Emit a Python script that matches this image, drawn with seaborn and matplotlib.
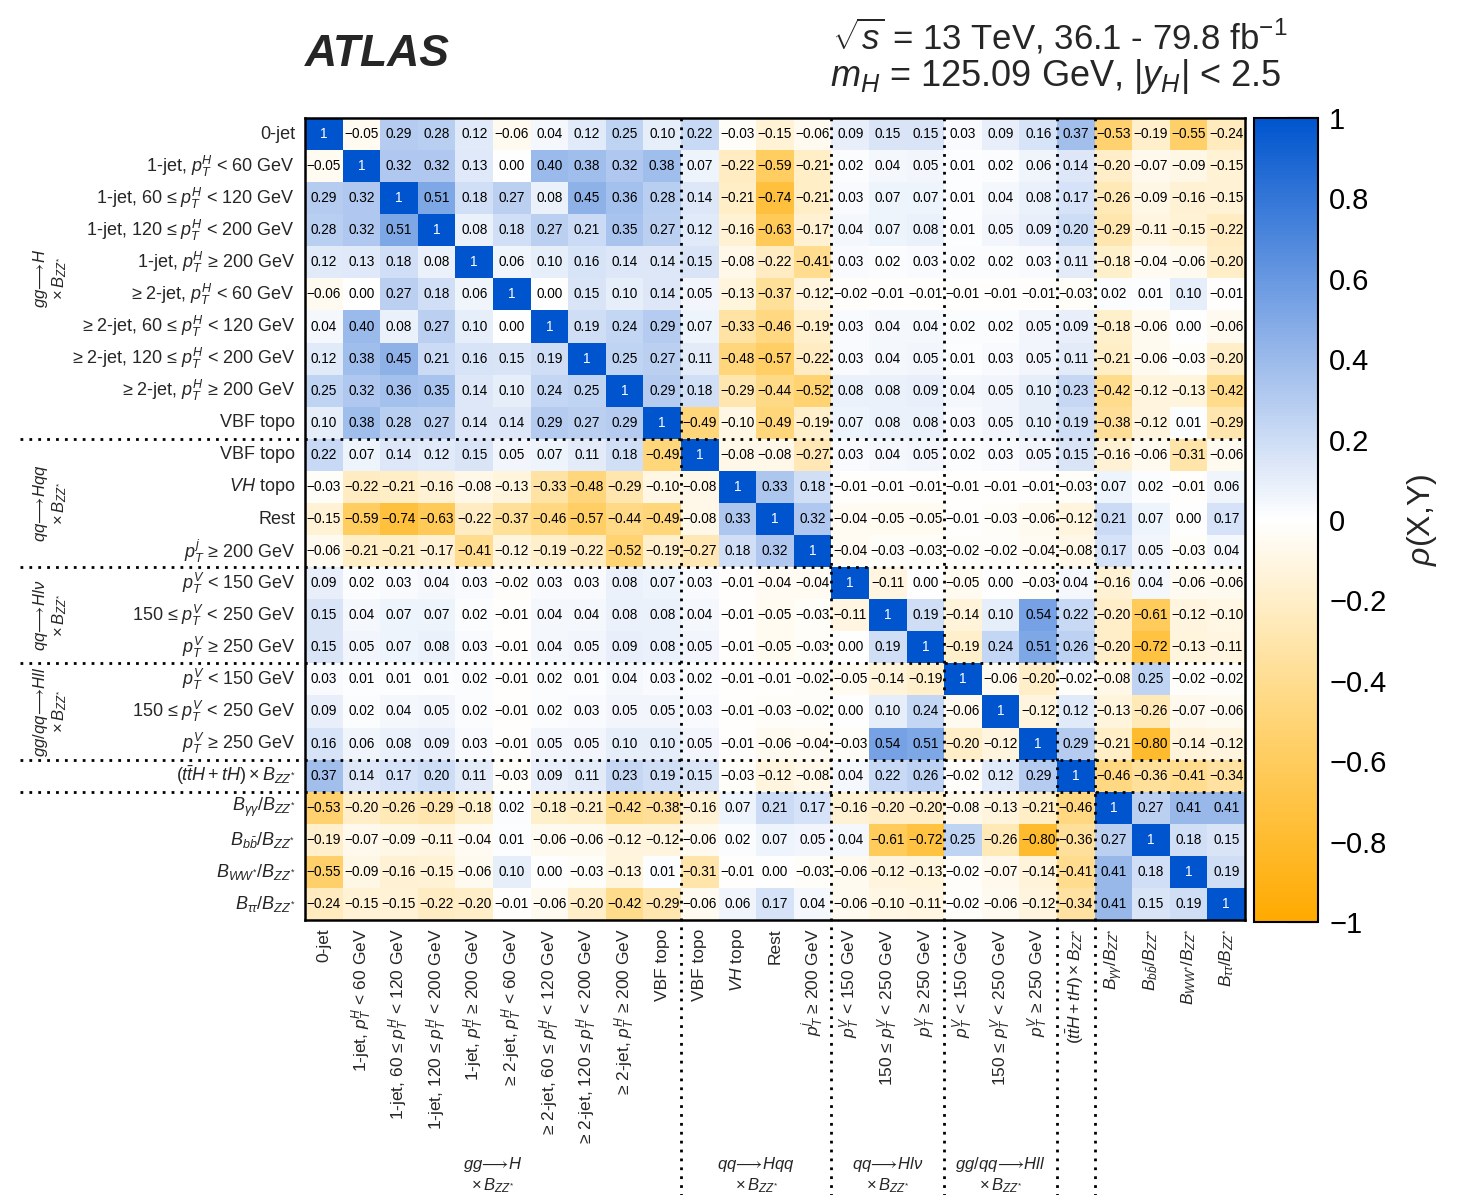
import numpy as np
import pandas as pd
import matplotlib
matplotlib.use("Agg")
import matplotlib.pyplot as plt
import matplotlib.transforms as mtransforms
from matplotlib.colors import LinearSegmentedColormap
import seaborn as sns

# ---- parameter labels -------------------------------------------------------
labels = [
    "0-jet",
    r"1-jet, $p_{T}^{H}$ < 60 GeV",
    r"1-jet, 60 ≤ $p_{T}^{H}$ < 120 GeV",
    r"1-jet, 120 ≤ $p_{T}^{H}$ < 200 GeV",
    r"1-jet, $p_{T}^{H}$ ≥ 200 GeV",
    r"≥ 2-jet, $p_{T}^{H}$ < 60 GeV",
    r"≥ 2-jet, 60 ≤ $p_{T}^{H}$ < 120 GeV",
    r"≥ 2-jet, 120 ≤ $p_{T}^{H}$ < 200 GeV",
    r"≥ 2-jet, $p_{T}^{H}$ ≥ 200 GeV",
    "VBF topo",
    "VBF topo",
    r"$VH$ topo",
    "Rest",
    r"$p_{T}^{j}$ ≥ 200 GeV",
    r"$p_{T}^{V}$ < 150 GeV",
    r"150 ≤ $p_{T}^{V}$ < 250 GeV",
    r"$p_{T}^{V}$ ≥ 250 GeV",
    r"$p_{T}^{V}$ < 150 GeV",
    r"150 ≤ $p_{T}^{V}$ < 250 GeV",
    r"$p_{T}^{V}$ ≥ 250 GeV",
    r"$(t\bar{t}H + tH)\times B_{ZZ^{*}}$",
    r"$B_{\gamma\gamma}/B_{ZZ^{*}}$",
    r"$B_{b\bar{b}}/B_{ZZ^{*}}$",
    r"$B_{WW^{*}}/B_{ZZ^{*}}$",
    r"$B_{\tau\tau}/B_{ZZ^{*}}$",
]

# production-mode groups: (first index, last index + 1, label lines)
groups = [
    (0, 10, r"$gg\!\longrightarrow\! H$", r"$\times\, B_{ZZ^{*}}$"),
    (10, 14, r"$qq\!\longrightarrow\! Hqq$", r"$\times\, B_{ZZ^{*}}$"),
    (14, 17, r"$qq\!\longrightarrow\! Hl\nu$", r"$\times\, B_{ZZ^{*}}$"),
    (17, 20, r"$gg/qq\!\longrightarrow\! Hll$", r"$\times\, B_{ZZ^{*}}$"),
]
separators = [10, 14, 17, 20, 21]

# ---- correlation coefficients, one list per row ------------------------------
r00 = [1, -0.05, 0.29, 0.28, 0.12, -0.06, 0.04, 0.12, 0.25, 0.10, 0.22, -0.03, -0.15, -0.06, 0.09, 0.15, 0.15, 0.03, 0.09, 0.16, 0.37, -0.53, -0.19, -0.55, -0.24]
r01 = [-0.05, 1, 0.32, 0.32, 0.13, 0.00, 0.40, 0.38, 0.32, 0.38, 0.07, -0.22, -0.59, -0.21, 0.02, 0.04, 0.05, 0.01, 0.02, 0.06, 0.14, -0.20, -0.07, -0.09, -0.15]
r02 = [0.29, 0.32, 1, 0.51, 0.18, 0.27, 0.08, 0.45, 0.36, 0.28, 0.14, -0.21, -0.74, -0.21, 0.03, 0.07, 0.07, 0.01, 0.04, 0.08, 0.17, -0.26, -0.09, -0.16, -0.15]
r03 = [0.28, 0.32, 0.51, 1, 0.08, 0.18, 0.27, 0.21, 0.35, 0.27, 0.12, -0.16, -0.63, -0.17, 0.04, 0.07, 0.08, 0.01, 0.05, 0.09, 0.20, -0.29, -0.11, -0.15, -0.22]
r04 = [0.12, 0.13, 0.18, 0.08, 1, 0.06, 0.10, 0.16, 0.14, 0.14, 0.15, -0.08, -0.22, -0.41, 0.03, 0.02, 0.03, 0.02, 0.02, 0.03, 0.11, -0.18, -0.04, -0.06, -0.20]
r05 = [-0.06, 0.00, 0.27, 0.18, 0.06, 1, 0.00, 0.15, 0.10, 0.14, 0.05, -0.13, -0.37, -0.12, -0.02, -0.01, -0.01, -0.01, -0.01, -0.01, -0.03, 0.02, 0.01, 0.10, -0.01]
r06 = [0.04, 0.40, 0.08, 0.27, 0.10, 0.00, 1, 0.19, 0.24, 0.29, 0.07, -0.33, -0.46, -0.19, 0.03, 0.04, 0.04, 0.02, 0.02, 0.05, 0.09, -0.18, -0.06, 0.00, -0.06]
r07 = [0.12, 0.38, 0.45, 0.21, 0.16, 0.15, 0.19, 1, 0.25, 0.27, 0.11, -0.48, -0.57, -0.22, 0.03, 0.04, 0.05, 0.01, 0.03, 0.05, 0.11, -0.21, -0.06, -0.03, -0.20]
r08 = [0.25, 0.32, 0.36, 0.35, 0.14, 0.10, 0.24, 0.25, 1, 0.29, 0.18, -0.29, -0.44, -0.52, 0.08, 0.08, 0.09, 0.04, 0.05, 0.10, 0.23, -0.42, -0.12, -0.13, -0.42]
r09 = [0.10, 0.38, 0.28, 0.27, 0.14, 0.14, 0.29, 0.27, 0.29, 1, -0.49, -0.10, -0.49, -0.19, 0.07, 0.08, 0.08, 0.03, 0.05, 0.10, 0.19, -0.38, -0.12, 0.01, -0.29]
r10 = [0.22, 0.07, 0.14, 0.12, 0.15, 0.05, 0.07, 0.11, 0.18, -0.49, 1, -0.08, -0.08, -0.27, 0.03, 0.04, 0.05, 0.02, 0.03, 0.05, 0.15, -0.16, -0.06, -0.31, -0.06]
r11 = [-0.03, -0.22, -0.21, -0.16, -0.08, -0.13, -0.33, -0.48, -0.29, -0.10, -0.08, 1, 0.33, 0.18, -0.01, -0.01, -0.01, -0.01, -0.01, -0.01, -0.03, 0.07, 0.02, -0.01, 0.06]
r12 = [-0.15, -0.59, -0.74, -0.63, -0.22, -0.37, -0.46, -0.57, -0.44, -0.49, -0.08, 0.33, 1, 0.32, -0.04, -0.05, -0.05, -0.01, -0.03, -0.06, -0.12, 0.21, 0.07, 0.00, 0.17]
r13 = [-0.06, -0.21, -0.21, -0.17, -0.41, -0.12, -0.19, -0.22, -0.52, -0.19, -0.27, 0.18, 0.32, 1, -0.04, -0.03, -0.03, -0.02, -0.02, -0.04, -0.08, 0.17, 0.05, -0.03, 0.04]
r14 = [0.09, 0.02, 0.03, 0.04, 0.03, -0.02, 0.03, 0.03, 0.08, 0.07, 0.03, -0.01, -0.04, -0.04, 1, -0.11, 0.00, -0.05, 0.00, -0.03, 0.04, -0.16, 0.04, -0.06, -0.06]
r15 = [0.15, 0.04, 0.07, 0.07, 0.02, -0.01, 0.04, 0.04, 0.08, 0.08, 0.04, -0.01, -0.05, -0.03, -0.11, 1, 0.19, -0.14, 0.10, 0.54, 0.22, -0.20, -0.61, -0.12, -0.10]
r16 = [0.15, 0.05, 0.07, 0.08, 0.03, -0.01, 0.04, 0.05, 0.09, 0.08, 0.05, -0.01, -0.05, -0.03, 0.00, 0.19, 1, -0.19, 0.24, 0.51, 0.26, -0.20, -0.72, -0.13, -0.11]
r17 = [0.03, 0.01, 0.01, 0.01, 0.02, -0.01, 0.02, 0.01, 0.04, 0.03, 0.02, -0.01, -0.01, -0.02, -0.05, -0.14, -0.19, 1, -0.06, -0.20, -0.02, -0.08, 0.25, -0.02, -0.02]
r18 = [0.09, 0.02, 0.04, 0.05, 0.02, -0.01, 0.02, 0.03, 0.05, 0.05, 0.03, -0.01, -0.03, -0.02, 0.00, 0.10, 0.24, -0.06, 1, -0.12, 0.12, -0.13, -0.26, -0.07, -0.06]
r19 = [0.16, 0.06, 0.08, 0.09, 0.03, -0.01, 0.05, 0.05, 0.10, 0.10, 0.05, -0.01, -0.06, -0.04, -0.03, 0.54, 0.51, -0.20, -0.12, 1, 0.29, -0.21, -0.80, -0.14, -0.12]
r20 = [0.37, 0.14, 0.17, 0.20, 0.11, -0.03, 0.09, 0.11, 0.23, 0.19, 0.15, -0.03, -0.12, -0.08, 0.04, 0.22, 0.26, -0.02, 0.12, 0.29, 1, -0.46, -0.36, -0.41, -0.34]
r21 = [-0.53, -0.20, -0.26, -0.29, -0.18, 0.02, -0.18, -0.21, -0.42, -0.38, -0.16, 0.07, 0.21, 0.17, -0.16, -0.20, -0.20, -0.08, -0.13, -0.21, -0.46, 1, 0.27, 0.41, 0.41]
r22 = [-0.19, -0.07, -0.09, -0.11, -0.04, 0.01, -0.06, -0.06, -0.12, -0.12, -0.06, 0.02, 0.07, 0.05, 0.04, -0.61, -0.72, 0.25, -0.26, -0.80, -0.36, 0.27, 1, 0.18, 0.15]
r23 = [-0.55, -0.09, -0.16, -0.15, -0.06, 0.10, 0.00, -0.03, -0.13, 0.01, -0.31, -0.01, 0.00, -0.03, -0.06, -0.12, -0.13, -0.02, -0.07, -0.14, -0.41, 0.41, 0.18, 1, 0.19]
r24 = [-0.24, -0.15, -0.15, -0.22, -0.20, -0.01, -0.06, -0.20, -0.42, -0.29, -0.06, 0.06, 0.17, 0.04, -0.06, -0.10, -0.11, -0.02, -0.06, -0.12, -0.34, 0.41, 0.15, 0.19, 1]

rows = [r00, r01, r02, r03, r04, r05, r06, r07, r08, r09, r10, r11, r12,
        r13, r14, r15, r16, r17, r18, r19, r20, r21, r22, r23, r24]
corr = pd.DataFrame(np.array(rows, dtype=float))


def cell_text(v):
    if v == 1:
        return "1"
    return f"{v:.2f}".replace("-", "\u2212")


annot = np.vectorize(cell_text)(corr.values)

# ---- style -------------------------------------------------------------------
sns.set_theme(style="white")
plt.rcParams["font.family"] = ["Liberation Sans", "DejaVu Sans"]
plt.rcParams["mathtext.fontset"] = "custom"
plt.rcParams["mathtext.rm"] = "Liberation Sans"
plt.rcParams["mathtext.it"] = "Liberation Sans:italic"
plt.rcParams["mathtext.bf"] = "Liberation Sans:bold"
plt.rcParams["mathtext.sf"] = "Liberation Sans"
plt.rcParams["axes.unicode_minus"] = True

cmap = LinearSegmentedColormap.from_list(
    "orange_white_blue",
    [(0.00, "#FFAA00"),
     (0.25, "#FFD576"),
     (0.50, "#FFFFFF"),
     (0.75, "#82A9E6"),
     (1.00, "#0055CE")],
)

W, H = 1463, 1195
fig = plt.figure(figsize=(W / 100, H / 100), dpi=100)
ax = fig.add_axes([305 / W, 1 - 920 / H, 940 / W, 802 / H])
cax = fig.add_axes([1254 / W, 1 - 922 / H, 64 / W, 804 / H])

sns.heatmap(corr, ax=ax, cbar_ax=cax, cmap=cmap, vmin=-1, vmax=1,
            annot=annot, fmt="", annot_kws={"fontsize": 9.8},
            xticklabels=labels, yticklabels=labels, square=False)

for t in ax.texts:
    t.set_color("white" if t.get_text() == "1" else "black")

ax.tick_params(axis="both", length=0)
ax.tick_params(axis="y", pad=7, labelsize=13)
ax.tick_params(axis="x", pad=6, labelsize=12.5)
plt.setp(ax.get_yticklabels(), rotation=0, ha="right")
plt.setp(ax.get_xticklabels(), rotation=90, ha="center", va="top")
for s in ax.spines.values():
    s.set_visible(True)
    s.set_linewidth(1.8)
    s.set_color("black")

# dotted group separators, running out through the label regions
hline_tr = mtransforms.blended_transform_factory(fig.transFigure, ax.transData)
vline_tr = mtransforms.blended_transform_factory(ax.transData, fig.transFigure)
for k in separators:
    ax.plot([20 / W, 1245 / W], [k, k], transform=hline_tr, color="black",
            lw=2.0, ls=(0, (1, 2.2)), clip_on=False, zorder=5)
    ax.plot([k, k], [1 - 118 / H, 0.0], transform=vline_tr, color="black",
            lw=2.0, ls=(0, (1, 2.2)), clip_on=False, zorder=5)

# group labels on the left (rotated) and at the bottom
ylab_tr = mtransforms.blended_transform_factory(fig.transFigure, ax.transData)
xlab_tr = mtransforms.blended_transform_factory(ax.transData, fig.transFigure)
for lo, hi, top, bottom in groups:
    mid = (lo + hi) / 2
    ax.text(40 / W, mid, top, transform=ylab_tr, rotation=90, fontsize=12,
            ha="center", va="center")
    ax.text(60 / W, mid, bottom, transform=ylab_tr, rotation=90, fontsize=12,
            ha="center", va="center")
    ax.text(mid, 1 - 1165 / H, top, transform=xlab_tr, fontsize=12,
            ha="center", va="center")
    ax.text(mid, 1 - 1186 / H, bottom, transform=xlab_tr, fontsize=12,
            ha="center", va="center")

# colour bar
cbar = ax.collections[0].colorbar
cbar.set_ticks(np.round(np.arange(-1, 1.01, 0.2), 1))
cbar.set_ticklabels(["\u22121", "\u22120.8", "\u22120.6", "\u22120.4", "\u22120.2",
                     "0", "0.2", "0.4", "0.6", "0.8", "1"])
cax.tick_params(axis="y", direction="in", length=22, width=1.5, labelsize=21,
                pad=8, colors="black")
cbar.outline.set_visible(True)
cbar.outline.set_linewidth(1.5)
cbar.outline.set_edgecolor("black")
fig.text(1422 / W, 1 - 520 / H, r"$\rho$(X,Y)", rotation=90, fontsize=23,
         ha="center", va="center")

# header
fig.text(305 / W, 1 - 55 / H, "ATLAS", fontsize=32, fontweight="bold",
         fontstyle="italic", ha="left", va="center")
fig.text(1060 / W, 1 - 36 / H, r"$\sqrt{s}$ = 13 TeV, 36.1 - 79.8 fb$^{-1}$",
         fontsize=25, ha="center", va="center")
fig.text(1056 / W, 1 - 76 / H, r"$m_{H}$ = 125.09 GeV, |$y_{H}$| < 2.5",
         fontsize=26, ha="center", va="center")

fig.savefig("out.png", dpi=100)
